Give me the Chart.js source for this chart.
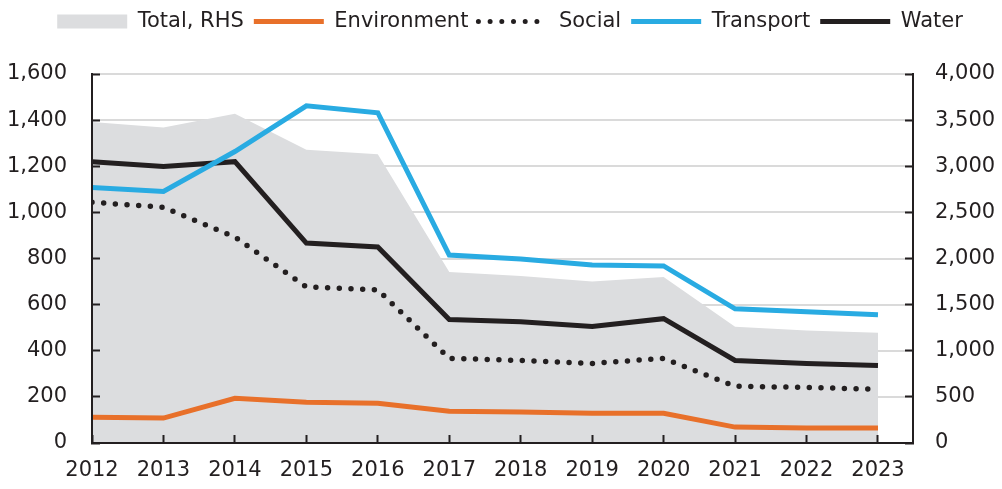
<!DOCTYPE html>
<html>
<head>
<meta charset="utf-8">
<script src="https://cdn.jsdelivr.net/npm/chart.js@4.4.1/dist/chart.umd.min.js"></script>
<style>
  html, body { margin: 0; padding: 0; background: #fff; }
  #wrap { width: 1002px; height: 489px; position: relative; }
</style>
</head>
<body>
<div id="wrap"><canvas id="chart"></canvas></div>
<script>
// Data
const years = [2012, 2013, 2014, 2015, 2016, 2017, 2018, 2019, 2020, 2021, 2022, 2023];
const totalRHS = [3480, 3420, 3570, 3180, 3130, 1855, 1810, 1750, 1800, 1260, 1220, 1195];
const environment = [112, 108, 194, 177, 172, 138, 134, 129, 129, 69, 65, 65];
const social = [1044, 1022, 893, 677, 664, 367, 358, 345, 367, 246, 241, 233];
const transport = [1108, 1091, 1264, 1462, 1432, 815, 798, 772, 768, 582, 569, 556];
const water = [1220, 1199, 1220, 867, 850, 535, 526, 505, 539, 358, 345, 336];
const leftTicks = [0, 200, 400, 600, 800, 1000, 1200, 1400, 1600];
const rightTicks = [0, 500, 1000, 1500, 2000, 2500, 3000, 3500, 4000];

const INK = '#231f20';
const FONT = 'DejaVu Sans';

function pts(values) {
    return values.map((v, i) => ({ x: years[i], y: v }));
}

const datasets = [
    {
        label: 'Total, RHS',
        data: pts(totalRHS),
        yAxisID: 'y2',
        borderWidth: 0,
        backgroundColor: '#dcdddf',
        fill: 'origin',
        pointRadius: 0,
        tension: 0,
        order: 5
    },
    {
        label: 'Environment',
        data: pts(environment),
        yAxisID: 'y',
        borderColor: '#e8702a',
        borderWidth: 5,
        pointRadius: 0,
        order: 0
    },
    {
        label: 'Social',
        data: pts(social),
        yAxisID: 'y',
        borderColor: INK,
        borderWidth: 5.5,
        borderDash: [0, 11.7],
        borderCapStyle: 'round',
        pointRadius: 0,
        order: 0
    },
    {
        label: 'Transport',
        data: pts(transport),
        yAxisID: 'y',
        borderColor: '#29abe2',
        borderWidth: 5,
        pointRadius: 0,
        order: 0
    },
    {
        label: 'Water',
        data: pts(water),
        yAxisID: 'y',
        borderColor: INK,
        borderWidth: 5,
        pointRadius: 0,
        order: 0
    }
];

// give the legend some extra room underneath it, and nudge it right a bit
const legendGap = {
    id: 'legendGap',
    beforeInit(chart) {
        const fit = chart.legend.fit;
        chart.legend.fit = function () {
            fit.call(this);
            this.height += 32;
        };
    },
    afterLayout(chart) {
        chart.legend.left += 9;
        chart.legend.right += 9;
    }
};

new Chart(document.getElementById('chart'), {
    type: 'line',
    data: { datasets: datasets },
    plugins: [legendGap],
    options: {
        responsive: true,
        maintainAspectRatio: false,
        animation: false,
        layout: { padding: { top: 1, left: 0, right: 0, bottom: 0 } },
        plugins: {
            tooltip: { enabled: false },
            legend: {
                position: 'top',
                labels: {
                    font: { family: FONT, size: 21 },
                    color: INK,
                    usePointStyle: true,
                    pointStyleWidth: 70,
                    boxHeight: 14,
                    padding: 10,
                    generateLabels(chart) {
                        return chart.data.datasets.map((ds, i) => {
                            const isArea = i === 0;
                            return {
                                text: ds.label,
                                datasetIndex: i,
                                pointStyle: isArea ? 'rect' : 'line',
                                fillStyle: isArea ? ds.backgroundColor : ds.borderColor,
                                strokeStyle: isArea ? ds.backgroundColor : ds.borderColor,
                                lineWidth: isArea ? 0 : 5,
                                lineDash: ds.borderDash || [],
                                lineCap: ds.borderDash ? 'round' : 'butt',
                                fontColor: INK,
                                hidden: false
                            };
                        });
                    }
                }
            }
        },
        scales: {
            x: {
                type: 'linear',
                min: 2012,
                max: 2023.49,
                afterBuildTicks: scale => { scale.ticks = years.map(v => ({ value: v })); },
                afterFit: scale => { scale.height = 46; },
                ticks: {
                    font: { family: FONT, size: 21 },
                    color: INK,
                    padding: 23,
                    maxRotation: 0,
                    autoSkip: false,
                    callback: v => String(v)
                },
                grid: { drawOnChartArea: false, tickLength: -8, tickColor: INK, tickWidth: 2, z: 1 },
                border: { color: INK, width: 2, z: 1 }
            },
            // horizontal gridlines only, kept behind the shaded area
            yGrid: {
                position: 'left',
                min: 0,
                max: 1600,
                afterBuildTicks: scale => { scale.ticks = leftTicks.map(v => ({ value: v })); },
                afterFit: scale => { scale.width = 0; },
                ticks: { display: false },
                grid: { color: '#dadada', lineWidth: 2, drawTicks: false, z: -1 },
                border: { display: false }
            },
            y: {
                position: 'left',
                min: 0,
                max: 1600,
                afterBuildTicks: scale => { scale.ticks = leftTicks.map(v => ({ value: v })); },
                afterFit: scale => { scale.width = 92; },
                ticks: {
                    font: { family: FONT, size: 21 },
                    color: INK,
                    padding: 33,
                    callback: v => v.toLocaleString('en-US')
                },
                grid: { drawOnChartArea: false, tickLength: -8, tickColor: INK, tickWidth: 2, z: 1 },
                border: { color: INK, width: 2, z: 1 }
            },
            y2: {
                position: 'right',
                min: 0,
                max: 4000,
                afterBuildTicks: scale => { scale.ticks = rightTicks.map(v => ({ value: v })); },
                afterFit: scale => { scale.width = 89; },
                ticks: {
                    font: { family: FONT, size: 21 },
                    color: INK,
                    padding: 30,
                    callback: v => v.toLocaleString('en-US')
                },
                grid: { drawOnChartArea: false, tickLength: -8, tickColor: INK, tickWidth: 2, z: 1 },
                border: { color: INK, width: 2, z: 1 }
            }
        }
    }
});
</script>
</body>
</html>
